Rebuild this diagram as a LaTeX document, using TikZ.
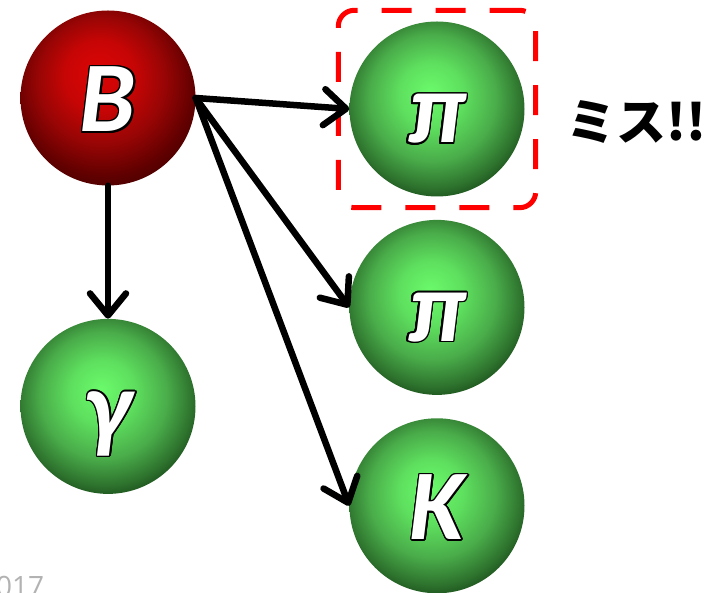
\documentclass[tikz,border=0pt]{standalone}
\usepackage{fontspec}
\setmainfont{Carlito}
\newfontfamily\jpfont{Noto Sans CJK JP}
\newfontfamily\yearfont{Open Sans}
\usepackage{contour}
\contourlength{1.5pt}
\usetikzlibrary{arrows.meta,positioning,fit}
\pgfdeclareradialshading{greenshade}{\pgfpoint{-2bp}{5bp}}{%
  rgb(0bp)=(0.42,0.98,0.42); rgb(9bp)=(0.37,0.88,0.37); rgb(18bp)=(0.29,0.68,0.29);
  rgb(25bp)=(0.18,0.45,0.18); rgb(30bp)=(0.08,0.26,0.08); rgb(50bp)=(0.08,0.26,0.08)}
\pgfdeclareradialshading{redshade}{\pgfpoint{-3bp}{8bp}}{%
  rgb(0bp)=(0.86,0.02,0.02); rgb(10bp)=(0.78,0.02,0.02); rgb(18bp)=(0.6,0.02,0.02);
  rgb(26bp)=(0.38,0.0,0.0); rgb(32bp)=(0.25,0.0,0.0); rgb(50bp)=(0.25,0.0,0.0)}
\tikzset{
  ball/.style={circle, minimum size=175pt, inner sep=0pt, text=white, text height=68pt, text depth=0pt,
    font=\fontsize{100}{100}\selectfont\bfseries\itshape},
  redball/.style={ball, shading=redshade},
  greenball/.style={ball, shading=greenshade},
  arrow/.style={-{Straight Barb[length=22pt,width=36pt,round]}, line width=6.5pt, line cap=round},
  missbox/.style={draw=red, line width=5pt, dash pattern=on 30pt off 24pt, rounded corners=16pt, inner sep=11pt}
}
\newcommand{\outl}[1]{\contour{black}{#1}}

\begin{document}
\begin{tikzpicture}[x=1pt, y=1pt]
\useasboundingbox (0,0) rectangle (721,593);
\node[redball] (B) at (108,495) {\outl{B}};
\node[greenball, below=133pt of B] (gamma) {\outl{γ}};
\node[greenball] (pi1) at (437,484) {\outl{π}};
\node[greenball, below=23pt of pi1] (pi2) {\outl{π}};
\node[greenball, below=23pt of pi2] (K) {\outl{K}};
\node[missbox, fit=(pi1)] (miss) {};
\node[right=28pt of miss, yshift=-13pt, inner sep=0pt, font=\jpfont\bfseries\fontsize{50}{50}\selectfont] (misslabel) {ミス!!};
\node[anchor=south west, inner sep=0pt, text=black!30, font=\yearfont\fontsize{28}{28}\selectfont] (year) at (-4,-4) {017};
\draw[arrow] (B) -- (gamma);
\draw[arrow] (B.east) -- (pi1.west);
\draw[arrow] (B.east) -- (pi2.west);
\draw[arrow] (B.east) -- (K.west);
\end{tikzpicture}
\end{document}
